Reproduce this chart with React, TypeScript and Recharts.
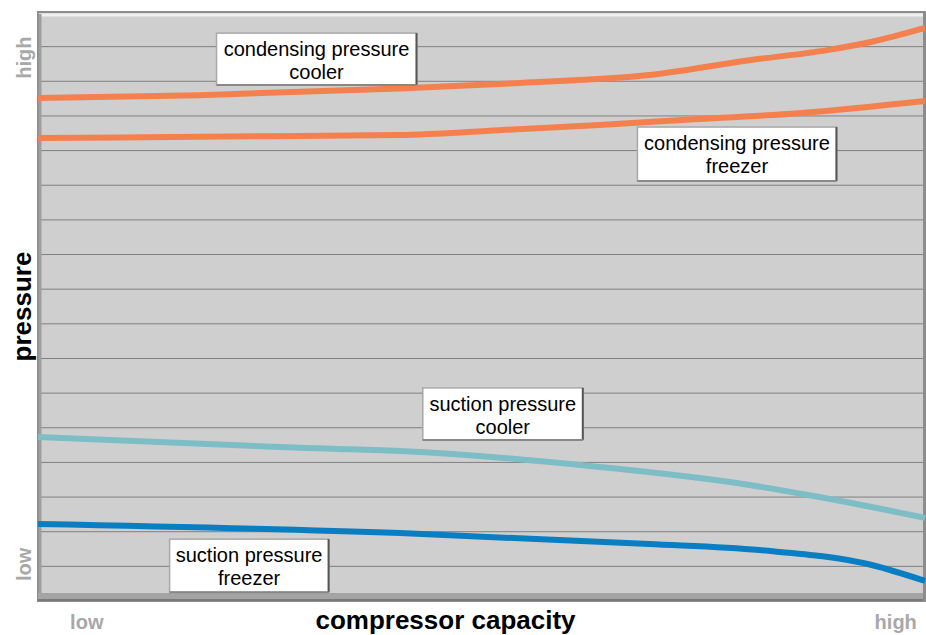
import React from 'react';
import {
  LineChart, Line, XAxis, YAxis, CartesianGrid,
  ReferenceArea, ReferenceDot, Label
} from 'recharts';

// compressor capacity (0 = low, 100 = high) vs. pressure (0..17 grid units)
const condCoolerX = [0, 18.2, 40.8, 54.3, 68.9, 80.2, 89, 94, 100];
const condCoolerY = [14.52, 14.6, 14.79, 14.95, 15.18, 15.61, 15.9, 16.14, 16.54];

const condFreezerX = [0, 18.2, 40.8, 52, 63.3, 74.5, 85.8, 100];
const condFreezerY = [13.36, 13.4, 13.45, 13.59, 13.74, 13.91, 14.08, 14.43];

const sucCoolerX = [0, 29.5, 40.8, 63.3, 80.2, 88.1, 100];
const sucCoolerY = [4.73, 4.42, 4.33, 3.87, 3.35, 3.0, 2.4];

const sucFreezerX = [0, 40.8, 68.9, 81.3, 94, 100];
const sucFreezerY = [2.22, 1.96, 1.645, 1.47, 1.04, 0.58];

const gridTicks = [1, 2, 3, 4, 5, 6, 7, 8, 9, 10, 11, 12, 13, 14, 15, 16];
const xTickValues = [5.5, 96.7];
const xTickLabels = ['low', 'high'];

// callout boxes: centre in data units + text lines
const callouts = [
  { x: 31.4, y: 15.64, w: 200, h: 52, lines: ['condensing pressure', 'cooler'] },
  { x: 78.8, y: 12.9, w: 199, h: 54, lines: ['condensing pressure', 'freezer'] },
  { x: 52.4, y: 5.4, w: 160, h: 52, lines: ['suction pressure', 'cooler'] },
  { x: 23.8, y: 1.02, w: 159, h: 53, lines: ['suction pressure', 'freezer'] },
];

const toRows = (xs: number[], ys: number[]) => xs.map((x, i) => ({ x, y: ys[i] }));

const series = [
  { name: 'condensing cooler', data: toRows(condCoolerX, condCoolerY), color: '#F4804E' },
  { name: 'condensing freezer', data: toRows(condFreezerX, condFreezerY), color: '#F4804E' },
  { name: 'suction cooler', data: toRows(sucCoolerX, sucCoolerY), color: '#7DBEC6' },
  { name: 'suction freezer', data: toRows(sucFreezerX, sucFreezerY), color: '#0A7EC2' },
];

const FONT = '"Liberation Sans", Arial, sans-serif';

const YTick = (props: any) => {
  const { x, y, payload } = props;
  let text = '';
  let shift = 0;
  if (payload.value === 16) { text = 'high'; shift = 11; }
  if (payload.value === 1) { text = 'low'; shift = -2; }
  if (!text) return null;
  return (
    <text
      x={0} y={0}
      transform={`translate(${x + 1}, ${y + shift}) rotate(-90)`}
      textAnchor="middle"
      fontFamily={FONT}
      fontWeight="bold"
      fontSize={20}
      fill="#A8A8A8"
    >
      {text}
    </text>
  );
};

const XTick = (props: any) => {
  const { x, y, payload } = props;
  const idx = xTickValues.indexOf(payload.value);
  return (
    <text
      x={x} y={y + 20}
      textAnchor="middle"
      fontFamily={FONT}
      fontWeight="bold"
      fontSize={20}
      fill="#A8A8A8"
    >
      {xTickLabels[idx]}
    </text>
  );
};

// bevelled frame around the plot area
const Frame = (props: any) => {
  const { x, y, width, height } = props;
  return (
    <g>
      <rect x={x} y={y} width={width} height={height} fill="none" stroke="#8C8C8C" strokeWidth={2} />
      <line x1={x + 1} y1={y + 3} x2={x + width - 1} y2={y + 3} stroke="#F0F0F0" strokeWidth={3} />
      <line x1={x + 2} y1={y + 2} x2={x + 2} y2={y + height - 2} stroke="#9E9E9E" strokeWidth={3} />
      <rect x={x} y={y + height - 8} width={width} height={8} fill="#A4A4A4" />
      <line x1={x} y1={y + height - 1} x2={x + width} y2={y + height - 1} stroke="#7A7A7A" strokeWidth={2} />
      <line x1={x + width - 1} y1={y} x2={x + width - 1} y2={y + height} stroke="#8C8C8C" strokeWidth={2} />
    </g>
  );
};

const Callout = (lines: string[], w: number, h: number) => (props: any) => {
  const { cx, cy } = props;
  const left = cx - w / 2;
  const top = cy - h / 2;
  return (
    <g>
      <rect x={left} y={top} width={w} height={h} fill="#FFFFFF" stroke="#A8A8A8" strokeWidth={1.5} />
      <line x1={left + w} y1={top} x2={left + w} y2={top + h} stroke="#555" strokeWidth={2} />
      <line x1={left} y1={top + h} x2={left + w} y2={top + h} stroke="#888" strokeWidth={2} />
      {lines.map((t, i) => (
        <text
          key={t}
          x={cx}
          y={top + 23 + i * 23}
          textAnchor="middle"
          fontFamily={FONT}
          fontSize={20}
          fill="#000"
        >
          {t}
        </text>
      ))}
    </g>
  );
};

export default function App() {
  return (
    <div style={{ position: 'absolute', left: 0, top: 0, background: '#fff', fontFamily: FONT }}>
      <LineChart width={926} height={635} margin={{ top: 12, right: 1, bottom: 0, left: 0 }}>
        <CartesianGrid vertical={false} stroke="#808080" fill="#CFCFCF" strokeOpacity={1} />
        <XAxis
          type="number"
          dataKey="x"
          domain={[0, 100]}
          ticks={xTickValues}
          tick={<XTick />}
          tickLine={false}
          axisLine={false}
          height={34}
          interval={0}
        >
          <Label
            value="compressor capacity"
            position="insideBottom"
            dx={-36}
            offset={6}
            style={{ fontFamily: FONT, fontWeight: 'bold', fontSize: 26, fill: '#000' }}
          />
        </XAxis>
        <YAxis
          type="number"
          domain={[0, 17]}
          ticks={gridTicks}
          tick={<YTick />}
          tickLine={false}
          axisLine={false}
          width={38}
          interval={0}
        >
          <Label
            value="pressure"
            angle={-90}
            position="insideLeft"
            offset={22}
            style={{ fontFamily: FONT, fontWeight: 'bold', fontSize: 26, fill: '#000', textAnchor: 'middle' }}
          />
        </YAxis>
        <ReferenceArea x1={0} x2={100} y1={0} y2={17} shape={<Frame />} ifOverflow="visible" />
        {series.map((s) => (
          <Line
            key={s.name}
            data={s.data}
            dataKey="y"
            type="monotone"
            stroke={s.color}
            strokeWidth={6}
            dot={false}
            activeDot={false}
            isAnimationActive={false}
          />
        ))}
        {callouts.map((c) => (
          <ReferenceDot
            key={c.lines.join(' ')}
            x={c.x}
            y={c.y}
            r={1}
            shape={Callout(c.lines, c.w, c.h)}
            ifOverflow="visible"
          />
        ))}
      </LineChart>
    </div>
  );
}
